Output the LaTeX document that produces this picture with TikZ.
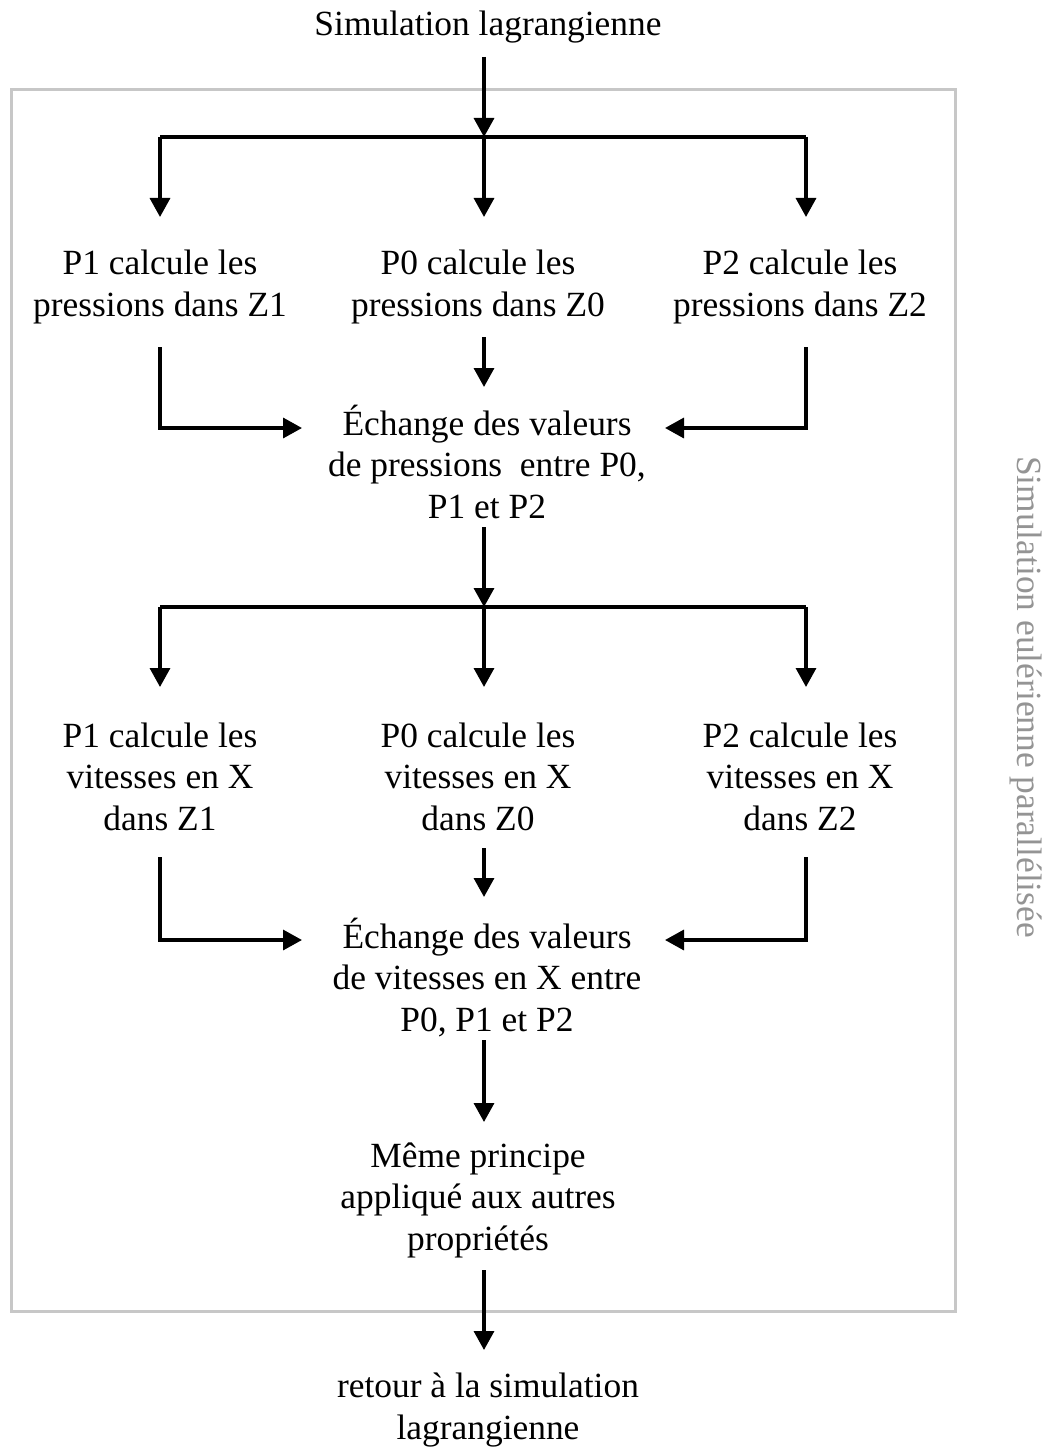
\documentclass[tikz,border=0pt]{standalone}
\usepackage{fontspec}
\setmainfont{Liberation Serif}
\usetikzlibrary{arrows.meta}
\begin{document}
\begin{tikzpicture}[x=1pt,y=-1pt,
  txt/.style={font=\fontsize{35.4}{41.5}\selectfont, align=center, anchor=base, inner sep=0pt},
  arr/.style={line width=3.4pt, -{Triangle[length=19pt,width=20pt]}},
  ln/.style={line width=3.4pt},
  frame/.style={draw=black!22, line width=3pt}]
\useasboundingbox (0,0) rectangle (1047,1450);
% frame
\draw[frame] (11.5,89.5) rectangle (955.5,1311.5);
\node[txt, text=black!42, rotate=-90, anchor=center] (side) at (1026,697) {Simulation eulérienne parallélisée};
% texts (anchor = baseline of last line)
\node[txt] (top) at (488,36) {Simulation lagrangienne};
\node[txt] (p1a) at (160,316) {P1 calcule les\\pressions dans Z1};
\node[txt] (p0a) at (478,316) {P0 calcule les\\pressions dans Z0};
\node[txt] (p2a) at (800,316) {P2 calcule les\\pressions dans Z2};
\node[txt] (ex1) at (487,518) {Échange des valeurs\\de pressions\ \ entre P0,\\P1 et P2};
\node[txt] (p1b) at (160,830) {P1 calcule les\\vitesses en X\\dans Z1};
\node[txt] (p0b) at (478,830) {P0 calcule les\\vitesses en X\\dans Z0};
\node[txt] (p2b) at (800,830) {P2 calcule les\\vitesses en X\\dans Z2};
\node[txt] (ex2) at (487,1031) {Échange des valeurs\\de vitesses en X entre\\P0, P1 et P2};
\node[txt] (meme) at (478,1250) {Même principe\\appliqué aux autres\\propriétés};
\node[txt] (ret) at (488,1439) {retour à la simulation\\lagrangienne};
% coordinates
\coordinate (topout) at (484,57);
\coordinate (s1) at (484,137);
\coordinate (s1l) at (160,137);
\coordinate (s1r) at (806,137);
\coordinate (p1ain) at (160,217);
\coordinate (p0ain) at (484,217);
\coordinate (p2ain) at (806,217);
\coordinate (p1aout) at (160,347);
\coordinate (p0aout) at (484,337);
\coordinate (p2aout) at (806,347);
\coordinate (c1l) at (160,428);
\coordinate (c1r) at (806,428);
\coordinate (ex1l) at (302,428);
\coordinate (ex1r) at (665,428);
\coordinate (ex1t) at (484,387);
\coordinate (ex1out) at (484,527);
\coordinate (s2) at (484,607);
\coordinate (s2l) at (160,607);
\coordinate (s2r) at (806,607);
\coordinate (p1bin) at (160,687);
\coordinate (p0bin) at (484,687);
\coordinate (p2bin) at (806,687);
\coordinate (p1bout) at (160,857);
\coordinate (p0bout) at (484,848);
\coordinate (p2bout) at (806,857);
\coordinate (c2l) at (160,940);
\coordinate (c2r) at (806,940);
\coordinate (ex2l) at (302,940);
\coordinate (ex2r) at (665,940);
\coordinate (ex2t) at (484,897);
\coordinate (ex2out) at (484,1040);
\coordinate (memein) at (484,1122);
\coordinate (memeout) at (484,1270);
\coordinate (retin) at (484,1350);
% connectors
\draw[arr] (topout) -- (s1);
\draw[ln] (s1l) -- (s1r);
\draw[arr] (s1l) -- (p1ain);
\draw[arr] (s1) -- (p0ain);
\draw[arr] (s1r) -- (p2ain);
\draw[arr] (p1aout) -- (c1l) -- (ex1l);
\draw[arr] (p0aout) -- (ex1t);
\draw[arr] (p2aout) -- (c1r) -- (ex1r);
\draw[arr] (ex1out) -- (s2);
\draw[ln] (s2l) -- (s2r);
\draw[arr] (s2l) -- (p1bin);
\draw[arr] (s2) -- (p0bin);
\draw[arr] (s2r) -- (p2bin);
\draw[arr] (p1bout) -- (c2l) -- (ex2l);
\draw[arr] (p0bout) -- (ex2t);
\draw[arr] (p2bout) -- (c2r) -- (ex2r);
\draw[arr] (ex2out) -- (memein);
\draw[arr] (memeout) -- (retin);
\end{tikzpicture}
\end{document}
